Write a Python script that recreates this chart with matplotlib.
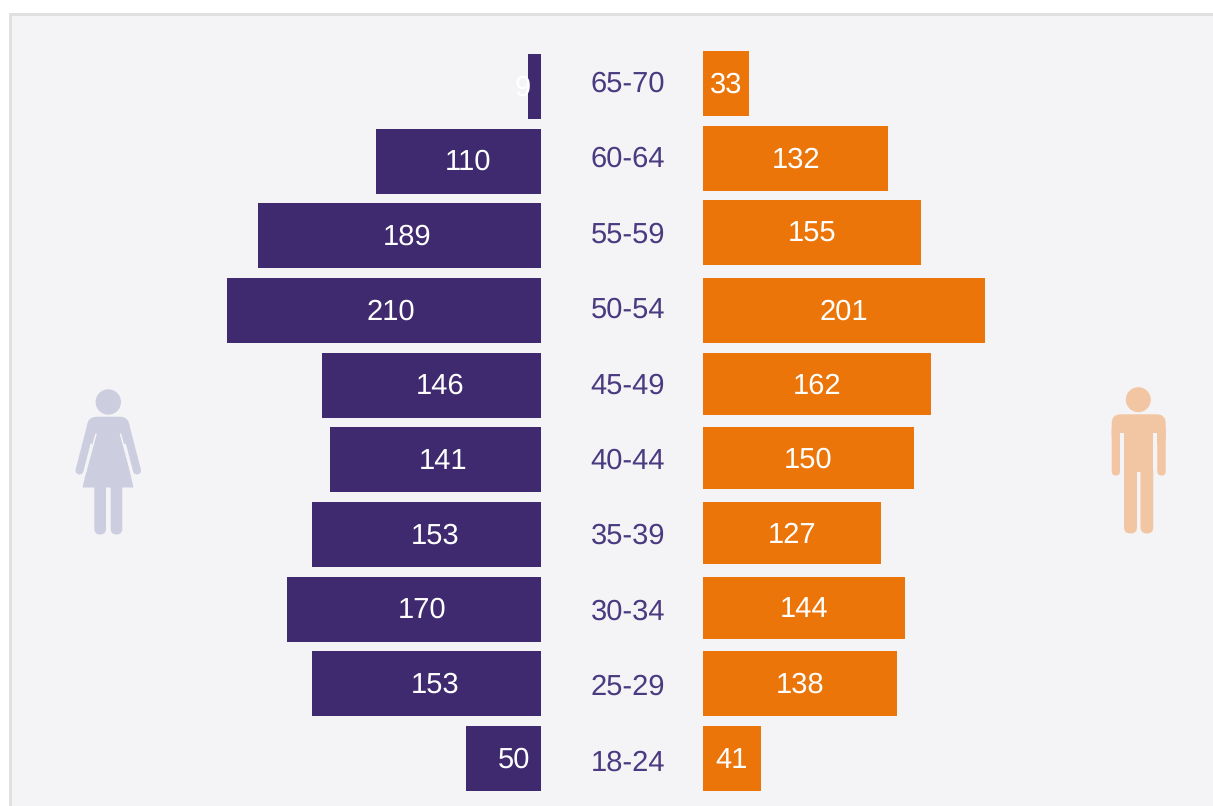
import matplotlib
matplotlib.use('Agg')
import matplotlib.pyplot as plt
from matplotlib.patches import Rectangle, Circle, FancyBboxPatch, Polygon

# data, top row first
ages = ['65-70', '60-64', '55-59', '50-54', '45-49', '40-44', '35-39', '30-34', '25-29', '18-24']
women = [9, 110, 189, 210, 146, 141, 153, 170, 153, 50]
men = [33, 132, 155, 201, 162, 150, 127, 144, 138, 41]

PURPLE = '#3f2a6f'
ORANGE = '#ec750a'
AGE_COLOR = '#4a3a80'
FEMALE_ICON = '#cdcde0'
MALE_ICON = '#f3c6a3'
PANEL = '#f4f4f7'
W, H = 1213, 806

plt.rcParams['font.family'] = ['Liberation Sans', 'DejaVu Sans']
plt.rcParams['text.hinting'] = 'none'

fig = plt.figure(figsize=(W / 100, H / 100), dpi=100, facecolor='white')

# overlay in pixel coordinates, for the frame, icons and age labels
bg = fig.add_axes([0, 0, 1, 1])
bg.set_xlim(0, W)
bg.set_ylim(H, 0)
bg.axis('off')
bg.add_patch(Rectangle((9, 13), W + 20, H + 20, fc='#e0e0e2', ec='none'))
bg.add_patch(Rectangle((12, 16), W + 20, H + 20, fc=PANEL, ec='none'))

# bar layout
pitch = 74.67
first = 86.5
left_scale = 1.497
right_scale = 1.405
left_edge = 541
right_edge = 703

ylim = ((H - first) / pitch, -first / pitch)

ax_l = fig.add_axes([0, 0, left_edge / W, 1])
ax_l.set_xlim(left_edge / left_scale, 0)
ax_l.set_ylim(*ylim)
ax_l.axis('off')

ax_r = fig.add_axes([right_edge / W, 0, (W - right_edge) / W, 1])
ax_r.set_xlim(0, (W - right_edge) / right_scale)
ax_r.set_ylim(*ylim)
ax_r.axis('off')

# the right bars sit a little off the grid in the original
right_nudge = [-3, -2.7, -3.3, 0, -1.2, -1.85, -1.5, -1.2, -0.4, 0]
right_height = [65, 65, 65, 65, 62, 62, 62, 62, 65, 65]
left_label_shift = [-12, 9, 8, 7, 8, 8, 9, 8, 9, 10]

for i, v in enumerate(women):
    ax_l.barh(i, v, height=65 / pitch, color=PURPLE)
    ax_l.annotate(str(v), (v / 2, i), xytext=(left_label_shift[i] * 0.72, -1.5 * 0.72),
                  textcoords='offset points', color='white', fontsize=21,
                  ha='center', va='center', annotation_clip=False)

for i, v in enumerate(men):
    y = i + right_nudge[i] / pitch
    ax_r.barh(y, v, height=right_height[i] / pitch, color=ORANGE)
    ax_r.annotate(str(v), (v / 2, y), xytext=(0, -2 * 0.72),
                  textcoords='offset points', color='white', fontsize=21,
                  ha='center', va='center', annotation_clip=False)

for i, age in enumerate(ages):
    bg.text(628, 84 + 75.44 * i, age, color=AGE_COLOR, fontsize=21, ha='center', va='center')


def round_box(x0, y0, x1, y1, r, color):
    bg.add_patch(FancyBboxPatch((x0 + r, y0 + r), x1 - x0 - 2 * r, y1 - y0 - 2 * r,
                                boxstyle=f'round,pad={r},rounding_size={r}',
                                fc=color, ec='none'))


# woman icon
bg.add_patch(Circle((108.3, 402), 12.7, fc=FEMALE_ICON, ec='none'))
round_box(87, 416.7, 129.5, 445, 10, FEMALE_ICON)
bg.add_patch(Polygon([(96, 430), (120.5, 430), (133.5, 487.5), (82.5, 487.5)], fc=FEMALE_ICON, ec='none'))
bg.plot([91, 79.5], [426, 470.5], color=FEMALE_ICON, lw=5.8, solid_capstyle='round')
bg.plot([125.5, 137], [426, 470.5], color=FEMALE_ICON, lw=5.8, solid_capstyle='round')
round_box(94.3, 480, 106, 534.5, 5.8, FEMALE_ICON)
round_box(110.7, 480, 122.3, 534.5, 5.8, FEMALE_ICON)
bg.plot([96, 85], [434, 474], color=PANEL, lw=1.1, solid_capstyle='round')
bg.plot([120.5, 131.5], [434, 474], color=PANEL, lw=1.1, solid_capstyle='round')

# man icon
bg.add_patch(Circle((1138.3, 399.7), 12.5, fc=MALE_ICON, ec='none'))
round_box(1111.7, 414.3, 1165.7, 445, 9, MALE_ICON)
round_box(1111.7, 425, 1120, 475.5, 4.1, MALE_ICON)
round_box(1157.3, 425, 1165.7, 475.5, 4.1, MALE_ICON)
bg.add_patch(Rectangle((1120, 432.7), 4, 20, fc=PANEL, ec='none'))
bg.add_patch(Rectangle((1153.3, 432.7), 4, 20, fc=PANEL, ec='none'))
round_box(1124, 465, 1137, 533.5, 6.3, MALE_ICON)
round_box(1140.5, 465, 1153.3, 533.5, 6.3, MALE_ICON)
bg.add_patch(Rectangle((1124, 425), 29.3, 47, fc=MALE_ICON, ec='none'))

fig.savefig('out.png', dpi=100, facecolor='white')
